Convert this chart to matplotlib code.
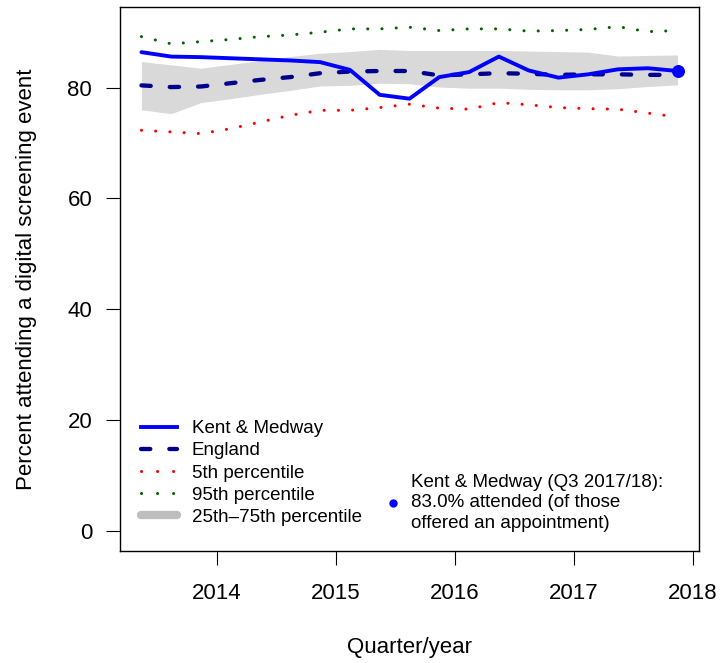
import matplotlib
matplotlib.use("Agg")
import matplotlib.pyplot as plt
from matplotlib.lines import Line2D

plt.rcParams['font.family'] = ['Liberation Sans', 'DejaVu Sans']
plt.rcParams['lines.scale_dashes'] = False

# Quarter mid-points (financial quarters Q1 2013/14 .. Q3 2017/18)
quarters = [2013.37, 2013.62, 2013.87, 2014.12, 2014.37, 2014.62, 2014.87,
            2015.12, 2015.37, 2015.62, 2015.87, 2016.12, 2016.37, 2016.62,
            2016.87, 2017.12, 2017.37, 2017.62, 2017.87]

kent = [86.4, 85.6, 85.5, 85.3, 85.1, 84.9, 84.6, 83.2, 78.7, 78.0,
        81.9, 82.8, 85.6, 83.1, 81.8, 82.4, 83.3, 83.5, 83.0]
england = [80.4, 80.1, 80.2, 80.8, 81.4, 81.9, 82.6, 82.9, 83.0, 83.0,
           82.2, 82.4, 82.6, 82.5, 82.3, 82.4, 82.4, 82.3, 82.3]
p5 = [72.3, 72.0, 71.7, 72.6, 73.8, 75.0, 75.9, 75.9, 76.4, 77.0,
      76.3, 76.1, 77.3, 76.9, 76.4, 76.2, 76.1, 75.4, 74.7]
p95 = [89.2, 87.9, 88.3, 88.7, 89.2, 89.5, 90.0, 90.6, 90.6, 90.9,
       90.3, 90.6, 90.6, 90.2, 90.3, 90.5, 91.0, 90.1, 90.3]
p25 = [76.0, 75.3, 77.3, 78.0, 78.8, 79.5, 80.3, 80.4, 80.8, 80.7,
       80.1, 79.9, 79.9, 79.7, 79.6, 79.6, 79.8, 80.2, 80.5]
p75 = [84.7, 84.1, 83.5, 84.2, 84.9, 85.6, 86.2, 86.5, 86.9, 86.7,
       86.7, 86.7, 86.7, 86.6, 86.5, 86.4, 85.7, 85.8, 85.9]

year_ticks = [2014, 2015, 2016, 2017, 2018]
pct_ticks = [0, 20, 40, 60, 80]

legend_labels = ["Kent & Medway", "England", "5th percentile",
                 "95th percentile", "25th\u201375th percentile"]
note_text = "Kent & Medway (Q3 2017/18):\n83.0% attended (of those\noffered an appointment)"
note_pos = (2015.48, 5.1)

W, H = 721, 663
fig = plt.figure(figsize=(W / 100, H / 100), dpi=100)
ax = fig.add_axes([120 / W, 1 - 551 / H, (699 - 120) / W, (551 - 7) / H])

C_KENT = '#0000FF'
C_ENG = '#00008B'
C_P5 = '#FF0000'
C_P95 = '#006400'
C_BAND = '#D9D9D9'
C_BAND_LEG = '#BEBEBE'

dash_eng = (0, (6.7, 13.7))
dot_style = (0, (0.05, 10.2))

ax.fill_between(quarters, p25, p75, color=C_BAND, lw=0, zorder=1)
ax.plot(quarters, p5, color=C_P5, lw=2.2, linestyle=dot_style,
        dash_capstyle='round', zorder=2)
ax.plot(quarters, p95, color=C_P95, lw=2.2, linestyle=dot_style,
        dash_capstyle='round', zorder=2)
ax.plot(quarters, england, color=C_ENG, lw=3.1, linestyle=dash_eng,
        dash_capstyle='round', zorder=3)
ax.plot(quarters, kent, color=C_KENT, lw=2.8, solid_joinstyle='round',
        solid_capstyle='round', zorder=4)
ax.plot([quarters[-1]], [kent[-1]], 'o', color=C_KENT, ms=8.3, zorder=5)

rng = quarters[-1] - quarters[0]
ax.set_xlim(quarters[0] - 0.04 * rng, quarters[-1] + 0.04 * rng)
ax.set_ylim(-3.64, 94.55)
ax.set_xticks(year_ticks)
ax.set_xticklabels([str(t) for t in year_ticks])
ax.set_yticks(pct_ticks)
ax.set_yticklabels([str(t) for t in pct_ticks])
ax.tick_params(axis='both', direction='out', length=10, width=0.8,
               labelsize=16, colors='black')
ax.tick_params(axis='y', pad=10)
ax.tick_params(axis='x', pad=13)
for s in ax.spines.values():
    s.set_linewidth(1.0)
    s.set_color('black')

handles = [
    Line2D([], [], color=C_KENT, lw=2.8),
    Line2D([], [], color=C_ENG, lw=3.1, linestyle=dash_eng, dash_capstyle='round'),
    Line2D([], [], color=C_P5, lw=2.2, linestyle=(0, (0.05, 11.5)), dash_capstyle='round'),
    Line2D([], [], color=C_P95, lw=2.2, linestyle=(0, (0.05, 11.5)), dash_capstyle='round'),
    Line2D([], [], color=C_BAND_LEG, lw=6, solid_capstyle='round'),
]
leg = ax.legend(handles, legend_labels, loc='lower left',
                bbox_to_anchor=(0.0363, 0.046), frameon=False, fontsize=13.5,
                handlelength=1.9, handletextpad=0.8, labelspacing=0.27,
                borderaxespad=0.0, borderpad=0.0)

ax.plot([note_pos[0]], [note_pos[1]], 'o', color=C_KENT, ms=5, zorder=5)
ax.text(note_pos[0] + 0.15, note_pos[1], note_text, fontsize=13.5,
        va='center', ha='left', linespacing=1.27)

fig.text(410 / W, 1 - 648 / H, "Quarter/year", fontsize=16,
         ha='center', va='center')
fig.text(27 / W, 1 - 279 / H, "Percent attending a digital screening event",
         fontsize=16, ha='center', va='center', rotation=90)

fig.savefig("out.png", dpi=100)
